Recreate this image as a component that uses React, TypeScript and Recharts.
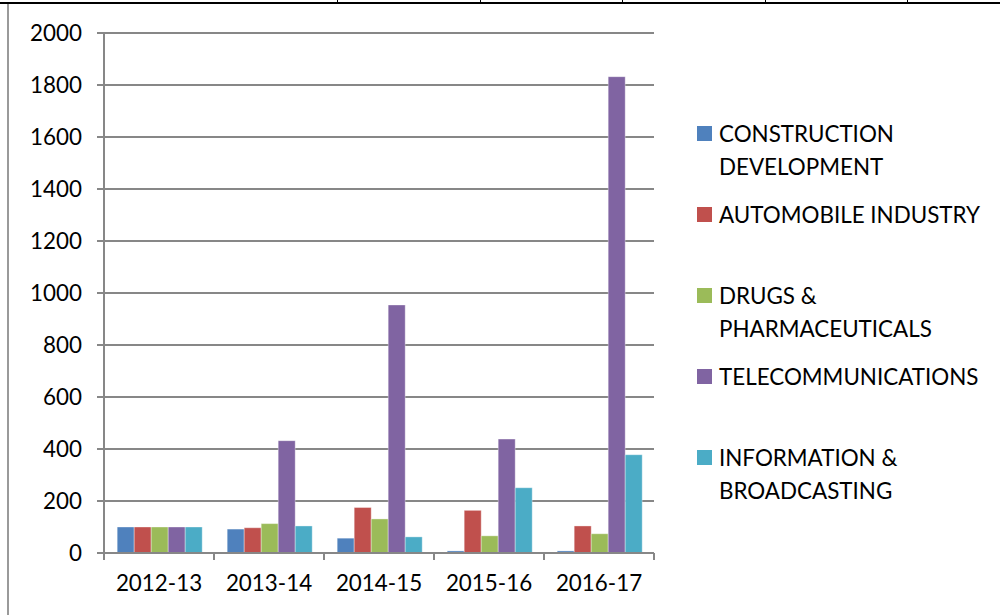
import React from "react";
import { BarChart, Bar, XAxis, YAxis, CartesianGrid } from "recharts";

const categories = ["2012-13", "2013-14", "2014-15", "2015-16", "2016-17"];
const construction = [100, 92, 57, 8, 8];
const automobile = [100, 97, 175, 164, 104];
const drugs = [100, 113, 131, 66, 74];
const telecom = [100, 432, 954, 438, 1832];
const information = [100, 104, 62, 251, 378];
const yTicks = [0, 200, 400, 600, 800, 1000, 1200, 1400, 1600, 1800, 2000];

const seriesKeys = ["construction", "automobile", "drugs", "telecom", "information"];
const seriesNames = [
  "CONSTRUCTION DEVELOPMENT",
  "AUTOMOBILE INDUSTRY",
  "DRUGS & PHARMACEUTICALS",
  "TELECOMMUNICATIONS",
  "INFORMATION & BROADCASTING",
];
const legendLines = [
  ["CONSTRUCTION", "DEVELOPMENT"],
  ["AUTOMOBILE INDUSTRY"],
  ["DRUGS &", "PHARMACEUTICALS"],
  ["TELECOMMUNICATIONS"],
  ["INFORMATION &", "BROADCASTING"],
];
const colors = ["#4F81BD", "#C0504D", "#9BBB59", "#8064A2", "#4BACC6"];

const data = categories.map((c, i) => ({
  cat: c,
  construction: construction[i],
  automobile: automobile[i],
  drugs: drugs[i],
  telecom: telecom[i],
  information: information[i],
}));

const W = 1000;
const H = 615;
const M = { top: 33, right: 346, bottom: 22, left: 0 };
const YW = 104;
const XH = 40;
const BAND = (W - M.left - YW - M.right) / categories.length;
const FONT = "Lato, 'Open Sans', sans-serif";
const FS = 22.4;
const GRID = "#878787";

const XTick = (props: any) => {
  const { x, y, payload, index } = props;
  const half = BAND / 2;
  return (
    <g>
      <line x1={x - half} y1={y} x2={x - half} y2={y + 7} stroke={GRID} strokeWidth={2} />
      {index === categories.length - 1 && (
        <line x1={x + half} y1={y} x2={x + half} y2={y + 7} stroke={GRID} strokeWidth={2} />
      )}
      <text x={x} y={y + 38} textAnchor="middle" fontFamily={FONT} fontSize={FS} fill="#000">
        {payload.value}
      </text>
    </g>
  );
};

const LegendBox = () => (
  <div style={{ position: "absolute", left: 697, top: 126, width: 303, fontFamily: FONT, fontSize: FS, color: "#000" }}>
    {legendLines.map((lines, i) => (
      <div key={i} style={{ position: "absolute", left: 0, top: i * 81, whiteSpace: "nowrap" }}>
        <div
          style={{
            position: "absolute",
            left: 0,
            top: 0,
            width: 15,
            height: 15,
            background: colors[i],
          }}
          title={seriesNames[i]}
        />
        {lines.map((l, j) => (
          <div
            key={j}
            style={{ position: "absolute", left: 22, top: -9 + j * 33, lineHeight: "33px", height: 33 }}
          >
            {l}
          </div>
        ))}
      </div>
    ))}
  </div>
);

export default function App() {
  return (
    <div style={{ position: "absolute", left: 0, top: 0, width: W, height: H, background: "#fff", overflow: "hidden" }}>
      <div style={{ position: "absolute", left: 0, top: 2, width: W, height: 2, background: "#000" }} />
      {[337, 480, 622, 765, 907].map((x) => (
        <div key={x} style={{ position: "absolute", left: x, top: 0, width: 1, height: 3, background: "#000" }} />
      ))}
      <div style={{ position: "absolute", left: 7, top: 4, width: 2, height: H - 4, background: "#9a9a9a" }} />
      <BarChart
        width={W}
        height={H}
        data={data}
        margin={M}
        barCategoryGap="12%"
        barGap={0}
        style={{ position: "absolute", left: 0, top: 0 }}
      >
        <CartesianGrid vertical={false} stroke={GRID} strokeWidth={2} />
        <XAxis
          dataKey="cat"
          height={XH}
          axisLine={{ stroke: GRID, strokeWidth: 2 }}
          tickLine={false}
          tickSize={0}
          tickMargin={0}
          tick={<XTick />}
          interval={0}
        />
        <YAxis
          width={YW}
          domain={[0, 2000]}
          ticks={yTicks}
          interval={0}
          axisLine={{ stroke: GRID, strokeWidth: 2 }}
          tickLine={{ stroke: GRID, strokeWidth: 2 }}
          tickSize={7}
          tickMargin={15}
          tick={{ fontFamily: FONT, fontSize: FS, fill: "#000" }}
        />
        {seriesKeys.map((k, i) => (
          <Bar
            key={k}
            dataKey={k}
            name={seriesNames[i]}
            fill={colors[i]}
            stroke="rgba(255,255,255,0.35)"
            strokeWidth={1}
            isAnimationActive={false}
          />
        ))}
      </BarChart>
      <LegendBox />
    </div>
  );
}
